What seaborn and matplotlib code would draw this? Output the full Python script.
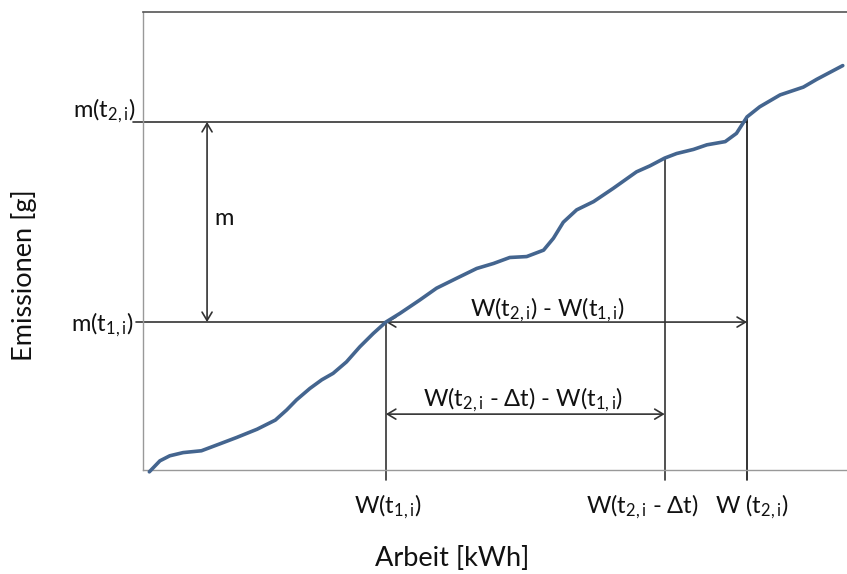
import matplotlib
matplotlib.use("Agg")
import matplotlib.pyplot as plt
import seaborn as sns
import pandas as pd

# Work (x) and cumulative emissions (y), arbitrary units
arbeit = [0.9, 2.4, 3.8, 5.7, 8.3, 10.9, 13.3, 16.2, 18.8, 20.4, 21.8, 23.7, 25.4,
          27.0, 28.9, 30.8, 32.7, 34.5, 36.5, 39.3, 41.7, 44.6, 47.4, 49.8, 52.1,
          54.5, 56.9, 58.3, 59.7, 61.6, 64.0, 66.8, 70.1, 72.0, 74.1, 75.8, 78.2,
          80.1, 82.7, 84.3, 85.8, 87.6, 90.5, 93.8, 95.7, 99.4]
emissionen = [-0.4, 2.0, 3.1, 3.8, 4.2, 5.7, 7.1, 8.9, 10.9, 13.1, 15.3, 17.8, 19.7,
              21.1, 23.6, 26.9, 29.8, 32.3, 34.2, 37.1, 39.7, 41.9, 44.0, 45.1, 46.4,
              46.6, 48.0, 50.6, 54.1, 56.8, 58.6, 61.5, 65.1, 66.4, 68.1, 69.1, 70.0,
              71.0, 71.7, 73.5, 77.1, 79.3, 81.9, 83.6, 85.3, 88.3]

W1 = 34.5        # W(t1,i)
W2dt = 74.1      # W(t2,i - dt)
W2 = 85.8        # W(t2,i)
m1 = 32.3        # m(t1,i)
m2 = 76.0        # m(t2,i)
m_curve_W2dt = 68.1
m_curve_W2 = 77.1

sns.set_style("white")
plt.rcParams['font.family'] = ['Lato', 'DejaVu Sans']
plt.rcParams['mathtext.fontset'] = 'custom'
plt.rcParams['mathtext.rm'] = 'Lato'
plt.rcParams['mathtext.it'] = 'Lato'

W, H = 847, 574
fig = plt.figure(figsize=(W / 100, H / 100), dpi=100)
ax = fig.add_axes([143 / W, (574 - 470) / H, (847 - 143) / W, (470 - 12) / H])
ax.set_xlim(0, 100)
ax.set_ylim(0, 100)

df = pd.DataFrame({"Arbeit": arbeit, "Emissionen": emissionen})
sns.lineplot(data=df, x="Arbeit", y="Emissionen", ax=ax, color="#44658f",
             linewidth=2.6, clip_on=False, zorder=5)

lc = "#333333"
lw = 1.2
# horizontal reference lines
ax.plot([-1.4, W2], [m2, m2], color=lc, lw=lw, clip_on=False)
ax.plot([-1.0, W1], [m1, m1], color=lc, lw=lw, clip_on=False)
# vertical reference lines
ax.plot([W1, W1], [m1, -2.2], color=lc, lw=lw, clip_on=False)
ax.plot([W2dt, W2dt], [m_curve_W2dt, -2.2], color=lc, lw=lw, clip_on=False)
ax.plot([W2, W2], [m_curve_W2, -2.2], color="#111111", lw=lw, clip_on=False)

aprops = dict(arrowstyle="<->,head_length=0.5,head_width=0.3", color=lc, lw=lw,
              shrinkA=0, shrinkB=0, mutation_scale=12)
ax.annotate("", xy=(9.1, m2), xytext=(9.1, m1), arrowprops=aprops)
ax.annotate("", xy=(W1, m1), xytext=(W2, m1), arrowprops=aprops)
ax.annotate("", xy=(W1, 12.2), xytext=(W2dt, 12.2), arrowprops=aprops)

fs = 17
tc = "#111111"
ax.text(11.5, 55.0, "m", fontsize=fs, ha="center", va="center", color=tc)
ax.text(-1.1, 78.5, r"m(t$_{\mathrm{2,i}}$)", fontsize=fs, ha="right", va="center",
        color=tc, clip_on=False)
ax.text(-1.4, 31.8, r"m(t$_{\mathrm{1,i}}$)", fontsize=fs, ha="right", va="center",
        color=tc, clip_on=False)
ax.text(57.5, 35.0, r"W(t$_{\mathrm{2,i}}$) - W(t$_{\mathrm{1,i}}$)", fontsize=fs,
        ha="center", va="center", color=tc)
ax.text(54.0, 15.4, r"W(t$_{\mathrm{2,i}}$ - Δt) - W(t$_{\mathrm{1,i}}$)", fontsize=fs,
        ha="center", va="center", color=tc)
ax.text(34.8, -8.0, r"W(t$_{\mathrm{1,i}}$)", fontsize=fs, ha="center", va="center",
        color=tc, clip_on=False)
ax.text(71.0, -8.0, r"W(t$_{\mathrm{2,i}}$ - Δt)", fontsize=fs, ha="center",
        va="center", color=tc, clip_on=False)
ax.text(86.5, -8.0, r"W (t$_{\mathrm{2,i}}$)", fontsize=fs, ha="center",
        va="center", color=tc, clip_on=False)

fs_ax = 19.5
fig.text(452 / W, 1 - 559 / H, "Arbeit [kWh]", fontsize=fs_ax, ha="center",
         va="center", color=tc)
fig.text(24 / W, 1 - 275 / H, "Emissionen [g]", fontsize=fs_ax, ha="center",
         va="center", rotation=90, color=tc)

ax.set_xticks([])
ax.set_yticks([])
ax.set_xlabel("")
ax.set_ylabel("")
for s in ["left", "bottom"]:
    ax.spines[s].set_color("#999999")
    ax.spines[s].set_linewidth(1.0)
ax.spines["top"].set_color("#555555")
ax.spines["top"].set_linewidth(1.2)
ax.spines["right"].set_visible(False)

fig.savefig("out.png", dpi=100)
